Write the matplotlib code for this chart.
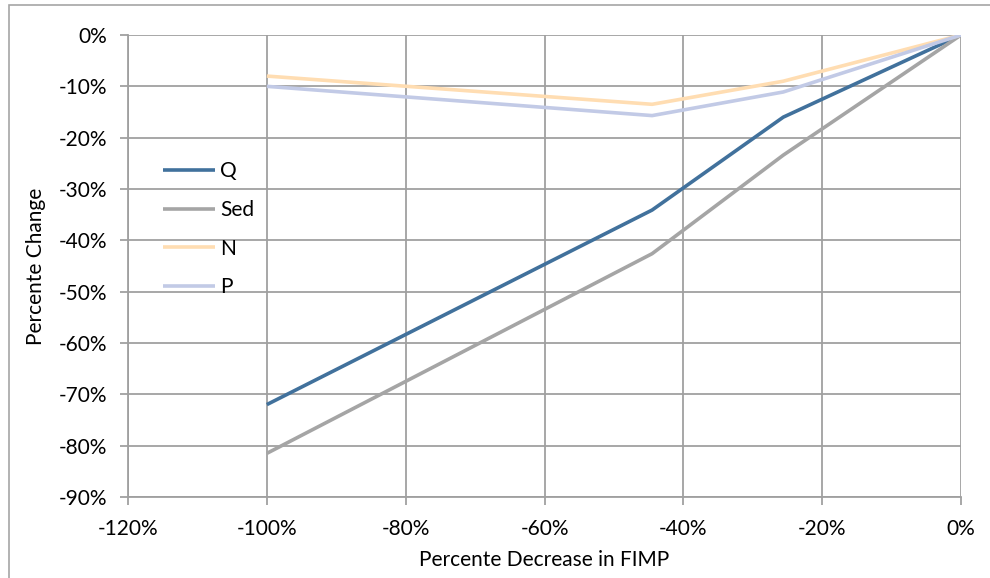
import matplotlib
matplotlib.use("Agg")
from matplotlib import pyplot as plt
from matplotlib.patches import Rectangle
from matplotlib.ticker import FuncFormatter, MultipleLocator

plt.rcParams['font.family'] = ['Lato', 'DejaVu Sans']

# data (percent)
fimp_decrease = [-100, -44.5, -25.6, 0]
q_change = [-72, -34.1, -16, 0]
sed_change = [-81.5, -42.6, -23.4, 0]
n_change = [-8, -13.5, -9, 0]
p_change = [-10, -15.7, -11.1, 0]

series_names = ['Q', 'Sed', 'N', 'P']
series_colors = ['#41719C', '#A5A5A5', '#FFDDB2', '#C2CAE6']

FS = 15

fig = plt.figure(figsize=(9.9, 5.78), dpi=100)
ax = fig.add_axes([128 / 990, 1 - 497 / 578, 833 / 990, 462 / 578])

# chart border
fig.patches.append(Rectangle((9 / 990, -0.1), 1.2, 1 - 5 / 578 + 0.1,
                             transform=fig.transFigure, fill=False,
                             edgecolor='#A6A6A6', linewidth=1.2))

for vals, name, col in zip([q_change, sed_change, n_change, p_change],
                           series_names, series_colors):
    ax.plot(fimp_decrease, vals, color=col, lw=2.6, label=name,
            solid_capstyle='butt')

ax.set_xlim(-120, 0)
ax.set_ylim(-90, 0)
ax.xaxis.set_major_locator(MultipleLocator(20))
ax.yaxis.set_major_locator(MultipleLocator(10))
pct = FuncFormatter(lambda v, p: '%d%%' % round(v))
ax.xaxis.set_major_formatter(pct)
ax.yaxis.set_major_formatter(pct)

ax.grid(True, color='#A0A0A0', lw=1.3)
ax.set_axisbelow(True)
for s in ['top', 'right']:
    ax.spines[s].set_visible(False)
for s in ['left', 'bottom']:
    ax.spines[s].set_color('#A0A0A0')
    ax.spines[s].set_linewidth(1.3)
ax.tick_params(axis='both', colors='#A0A0A0', labelcolor='black',
               labelsize=FS, length=6, width=1.3, direction='out')
ax.tick_params(axis='x', pad=10)
ax.tick_params(axis='y', pad=9)

ax.set_xlabel('Percente Decrease in FIMP', fontsize=FS, labelpad=8)
ax.set_ylabel('Percente Change', fontsize=FS, labelpad=9)

ax.legend(loc='upper left', bbox_to_anchor=(0.042, 0.727), frameon=False,
          fontsize=FS, handlelength=2.5, handletextpad=0.25,
          labelspacing=0.9, borderaxespad=0, borderpad=0)

fig.savefig('out.png', dpi=100)
